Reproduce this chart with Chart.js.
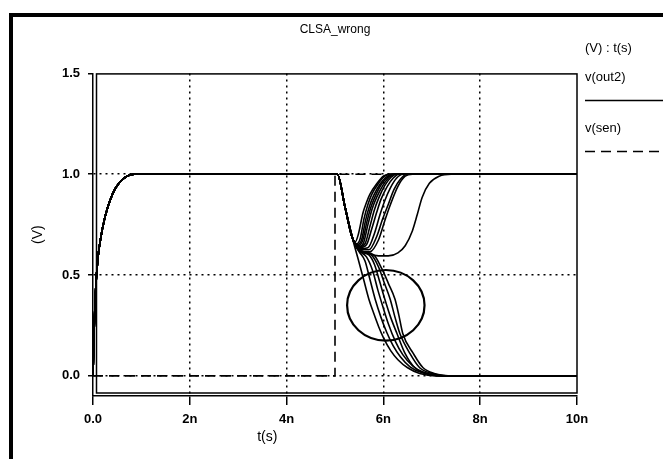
<!DOCTYPE html>
<html>
<head>
<meta charset="utf-8">
<script src="https://cdn.jsdelivr.net/npm/chart.js@4/dist/chart.umd.min.js"></script>
<style>
  html, body { margin: 0; padding: 0; background: #fff; }
  #wrap { position: relative; width: 663px; height: 459px; overflow: hidden; }
  #edge { position: absolute; left: 9px; top: 13px; right: 0; bottom: 0;
          border-top: 4px solid #000; border-left: 4px solid #000; }
  canvas { position: absolute; left: 0; top: 0; }
</style>
</head>
<body>
<div id="wrap">
  <div id="edge"></div>
  <canvas id="wave" width="663" height="459"></canvas>
</div>
<script>
// axis ticks (time in ns)
const xTicks = [0, 2, 4, 6, 8, 10];
const xTickLabels = ['0.0', '2n', '4n', '6n', '8n', '10n'];
const yTicks = [0, 0.5, 1.0, 1.5];
const yTickLabels = ['0.0', '0.5', '1.0', '1.5'];

// v(sen): enable fires at 5 ns
const senTime = [0, 5.0, 5.0, 10];
const senVolt = [0, 0, 1.0, 1.0];

// v(out2) common part: precharge ramp then hold at 1 V
const riseTime = [0, 0.02, 0.06, 0.1, 0.15, 0.25, 0.4, 0.55, 0.7, 0.85, 5.05];
const riseVolt = [0, 0.2, 0.45, 0.58, 0.67, 0.79, 0.9, 0.96, 0.99, 1.0, 1.0];

// runs that dip and come back to 1 V
const recoverTime = [
  [5.2, 5.35, 5.42, 5.48, 5.58, 5.65, 5.72, 5.87, 6.0, 6.12, 10],
  [5.2, 5.35, 5.45, 5.52, 5.6, 5.68, 5.76, 5.9, 6.03, 6.15, 10],
  [5.2, 5.35, 5.46, 5.55, 5.63, 5.71, 5.8, 5.93, 6.06, 6.18, 10],
  [5.2, 5.35, 5.47, 5.57, 5.66, 5.74, 5.83, 5.96, 6.09, 6.2, 10],
  [5.2, 5.35, 5.48, 5.59, 5.68, 5.77, 5.86, 5.99, 6.12, 6.23, 10],
  [5.2, 5.35, 5.5, 5.62, 5.72, 5.81, 5.9, 6.03, 6.16, 6.27, 10],
  [5.2, 5.35, 5.5, 5.65, 5.76, 5.86, 5.95, 6.08, 6.2, 6.32, 10],
  [5.2, 5.35, 5.5, 5.68, 5.82, 5.93, 6.03, 6.15, 6.27, 6.4, 10],
  [5.2, 5.35, 5.5, 5.7, 5.86, 5.98, 6.1, 6.22, 6.35, 6.48, 10],
  [5.2, 5.35, 5.5, 5.72, 5.9, 6.03, 6.13, 6.3, 6.45, 6.6, 10],
  [5.2, 5.35, 5.5, 5.7, 5.9, 6.1, 6.3, 6.45, 6.6, 6.7, 6.8, 6.95, 7.15, 7.4, 10]
];
const recoverVolt = [
  [0.845, 0.69, 0.665, 0.7, 0.81, 0.86, 0.9, 0.955, 0.99, 1, 1],
  [0.845, 0.69, 0.655, 0.68, 0.78, 0.85, 0.9, 0.955, 0.99, 1, 1],
  [0.845, 0.69, 0.65, 0.675, 0.77, 0.84, 0.895, 0.95, 0.985, 1, 1],
  [0.845, 0.69, 0.645, 0.67, 0.765, 0.835, 0.89, 0.95, 0.985, 1, 1],
  [0.845, 0.69, 0.64, 0.66, 0.75, 0.83, 0.885, 0.945, 0.985, 1, 1],
  [0.845, 0.69, 0.64, 0.655, 0.74, 0.82, 0.88, 0.945, 0.985, 1, 1],
  [0.845, 0.69, 0.635, 0.65, 0.73, 0.81, 0.875, 0.94, 0.98, 1, 1],
  [0.845, 0.69, 0.63, 0.635, 0.71, 0.8, 0.87, 0.935, 0.98, 1, 1],
  [0.845, 0.69, 0.63, 0.625, 0.69, 0.775, 0.85, 0.925, 0.975, 1, 1],
  [0.845, 0.69, 0.625, 0.615, 0.675, 0.77, 0.84, 0.94, 0.99, 1, 1],
  [0.845, 0.69, 0.625, 0.605, 0.595, 0.595, 0.61, 0.645, 0.72, 0.8, 0.885, 0.955, 0.99, 1, 1]
];

// runs that collapse to 0 V
const fallTime = [
  [5.2, 5.38, 5.5, 5.6, 5.7, 5.8, 5.9, 6.0, 6.15, 6.3, 6.5, 6.75, 7.1, 10],
  [5.2, 5.38, 5.5, 5.62, 5.72, 5.83, 5.95, 6.07, 6.2, 6.35, 6.55, 6.8, 7.15, 10],
  [5.2, 5.38, 5.5, 5.65, 5.78, 5.88, 5.98, 6.1, 6.25, 6.4, 6.6, 6.85, 7.25, 10],
  [5.2, 5.38, 5.5, 5.7, 5.82, 5.92, 6.03, 6.15, 6.28, 6.45, 6.65, 6.9, 7.3, 10],
  [5.2, 5.38, 5.5, 5.75, 5.9, 6.02, 6.14, 6.24, 6.34, 6.55, 6.75, 7.0, 7.4, 10],
  [5.2, 5.38, 5.5, 5.8, 5.97, 6.1, 6.24, 6.32, 6.4, 6.62, 6.82, 7.05, 7.45, 10]
];
const fallVolt = [
  [0.845, 0.665, 0.56, 0.47, 0.38, 0.31, 0.245, 0.19, 0.125, 0.08, 0.04, 0.012, 0, 0],
  [0.845, 0.67, 0.615, 0.57, 0.48, 0.38, 0.29, 0.215, 0.15, 0.095, 0.045, 0.015, 0, 0],
  [0.845, 0.67, 0.62, 0.59, 0.52, 0.43, 0.35, 0.26, 0.17, 0.105, 0.05, 0.015, 0, 0],
  [0.845, 0.67, 0.62, 0.6, 0.55, 0.47, 0.38, 0.29, 0.21, 0.11, 0.04, 0.012, 0, 0],
  [0.845, 0.67, 0.625, 0.6, 0.54, 0.46, 0.38, 0.29, 0.21, 0.11, 0.04, 0.012, 0, 0],
  [0.845, 0.67, 0.625, 0.6, 0.53, 0.46, 0.38, 0.3, 0.21, 0.11, 0.04, 0.012, 0, 0]
];

// hand-drawn ring marking the failing runs (centre t, v and radii)
const ringMark = { t: 6.05, v: 0.35, rt: 0.8, rv: 0.175 };

const FONT = "'Liberation Sans', Arial, sans-serif";

function toPoints(ts, vs) {
  return ts.map((t, i) => ({ x: t, y: vs[i] }));
}

const head = toPoints(riseTime, riseVolt);
const out2Runs = recoverTime.map((ts, i) => toPoints(ts, recoverVolt[i]))
  .concat(fallTime.map((ts, i) => toPoints(ts, fallVolt[i])))
  .map(tail => head.concat(tail));

const datasets = out2Runs.map(pts => ({
  label: 'v(out2)',
  data: pts,
  borderColor: '#000',
  borderWidth: 1.6,
  pointRadius: 0,
  cubicInterpolationMode: 'monotone'
}));
datasets.push({
  label: 'v(sen)',
  data: toPoints(senTime, senVolt),
  borderColor: '#000',
  borderWidth: 1.6,
  borderDash: [10, 6],
  pointRadius: 0,
  tension: 0
});

// plot frame, ring, side legend and axis names
const extras = {
  id: 'extras',
  beforeDatasetsDraw(chart) {
    const { ctx, chartArea: a } = chart;
    ctx.save();
    ctx.strokeStyle = '#000';
    ctx.lineWidth = 1.5;
    ctx.strokeRect(a.left + 3.5, a.top + 0.5, a.right - a.left - 3.5, a.bottom - a.top - 3.5);
    ctx.restore();
  },
  afterDraw(chart) {
    const { ctx, chartArea: a, scales: { x, y } } = chart;
    ctx.save();
    ctx.strokeStyle = '#000';
    ctx.fillStyle = '#000';

    // ring
    const cx = x.getPixelForValue(ringMark.t);
    const cy = y.getPixelForValue(ringMark.v);
    const rx = x.getPixelForValue(ringMark.t + ringMark.rt) - cx;
    const ry = cy - y.getPixelForValue(ringMark.v + ringMark.rv);
    ctx.lineWidth = 2.2;
    ctx.beginPath();
    ctx.ellipse(cx, cy, rx, ry, 0, 0, Math.PI * 2);
    ctx.stroke();

    // legend column on the right
    const lx = a.right + 8;
    ctx.font = '13px ' + FONT;
    ctx.textBaseline = 'middle';
    ctx.textAlign = 'left';
    ctx.fillText('(V) : t(s)', lx, a.top - 25);
    const seen = [];
    chart.data.datasets.forEach(ds => {
      if (seen.includes(ds.label)) return;
      seen.push(ds.label);
      const k = seen.length - 1;
      const ty = a.top + 4 + k * 51;
      ctx.fillText(ds.label, lx, ty);
      ctx.lineWidth = 1.5;
      ctx.setLineDash(ds.borderDash || []);
      ctx.beginPath();
      ctx.moveTo(lx, ty + 23);
      ctx.lineTo(chart.width, ty + 23);
      ctx.stroke();
      ctx.setLineDash([]);
    });

    // axis names
    ctx.font = '14px ' + FONT;
    ctx.textAlign = 'center';
    ctx.fillText('t(s)', a.left + (a.right - a.left) * 0.36, a.bottom + 41);
    ctx.translate(38, (a.top + a.bottom) / 2);
    ctx.rotate(-Math.PI / 2);
    ctx.fillText('(V)', 0, 0);
    ctx.restore();
  }
};

new Chart(document.getElementById('wave'), {
  type: 'line',
  data: { datasets },
  options: {
    responsive: false,
    animation: false,
    layout: { padding: { top: 0, left: 0, right: 86, bottom: 0 } },
    plugins: {
      legend: { display: false },
      tooltip: { enabled: false },
      title: {
        display: true,
        text: 'CLSA_wrong',
        fullSize: false,
        color: '#000',
        font: { family: FONT, size: 12, weight: 'normal' },
        padding: { top: 22, bottom: 37 }
      }
    },
    scales: {
      x: {
        type: 'linear',
        min: 0,
        max: 10,
        afterBuildTicks: s => { s.ticks = xTicks.map(v => ({ value: v })); },
        afterFit: s => { s.height = 63; },
        ticks: {
          color: '#000',
          padding: 7,
          maxRotation: 0,
          font: { family: FONT, size: 13, weight: 'bold' },
          callback: (v, i) => xTickLabels[i]
        },
        grid: {
          color: c => (c.tick && c.tick.value > 0 && c.tick.value < 10) ? '#000' : 'rgba(0,0,0,0)',
          lineWidth: 1.5,
          tickColor: '#000',
          tickLength: 9,
          tickWidth: 1.5
        },
        border: { display: true, color: '#000', width: 1.5, dash: [2, 4] }
      },
      y: {
        type: 'linear',
        min: -0.1,
        max: 1.5,
        afterBuildTicks: s => { s.ticks = yTicks.map(v => ({ value: v })); },
        afterFit: s => { s.width = 93; },
        ticks: {
          color: '#000',
          padding: 8,
          font: { family: FONT, size: 13, weight: 'bold' },
          callback: (v, i) => yTickLabels[i]
        },
        grid: {
          color: c => (c.tick && c.tick.value >= 0 && c.tick.value < 1.5) ? '#000' : 'rgba(0,0,0,0)',
          lineWidth: 1.5,
          tickColor: '#000',
          tickLength: 5,
          tickWidth: 1.5
        },
        border: { display: true, color: '#000', width: 1.5, dash: [2, 4] }
      }
    }
  },
  plugins: [extras]
});
</script>
</body>
</html>
